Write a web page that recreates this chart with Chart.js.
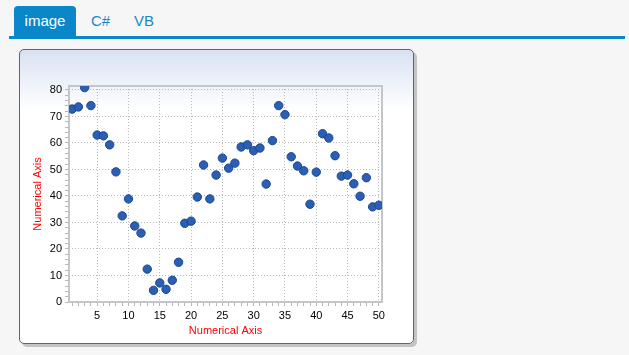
<!DOCTYPE html>
<html>
<head>
<meta charset="utf-8">
<script src="https://cdn.jsdelivr.net/npm/chart.js@4.4.1/dist/chart.umd.min.js"></script>
<style>
  html, body { margin: 0; padding: 0; }
  body { width: 629px; height: 355px; background: #f6f6f6; position: relative; overflow: hidden; font-family: "Liberation Sans", Arial, sans-serif; }
  .tab { position: absolute; top: 6px; height: 30px; line-height: 30px; font-size: 15px; color: #1a88c9; }
  .tab.active { left: 14px; width: 62px; background: #0a87c9; color: #fff; text-align: center; border-radius: 4px 4px 0 0; }
  .bar { position: absolute; left: 9px; top: 36px; width: 616px; height: 3px; background: #0a87c9; }
  .panel { position: absolute; left: 19px; top: 49px; width: 393px; height: 293px; border: 1px solid #60646a; border-radius: 5px;
           background: linear-gradient(to bottom, #d9e1f2 0px, #ffffff 60px, #ffffff 100%); box-shadow: 3px 3px 0 #c4c4c4; }
  .panel canvas { position: absolute; left: 0; top: 0; }
</style>
</head>
<body>
<div class="tab active">image</div>
<div class="tab" style="left:91px;">C#</div>
<div class="tab" style="left:134px;">VB</div>
<div class="bar"></div>
<div class="panel"><canvas id="c" width="393" height="293"></canvas></div>
<script>
const xValues = Array.from({length: 50}, (_, i) => i + 1);
const yValues = [72.8, 73.6, 80.9, 74.1, 63.0, 62.7, 59.3, 49.1, 32.5, 38.9,
                 28.7, 26.0, 12.4, 4.4, 7.2, 4.8, 8.2, 15.0, 29.7, 30.5,
                 39.6, 51.7, 38.9, 47.9, 54.3, 50.5, 52.4, 58.5, 59.3, 57.1,
                 58.1, 44.5, 60.9, 74.1, 70.7, 54.8, 51.3, 49.5, 36.9, 49.0,
                 63.5, 61.9, 55.2, 47.5, 47.9, 44.6, 39.9, 46.9, 35.9, 36.5];
const xTickValues = Array.from({length: 50}, (_, i) => i + 1);
const xTickLabels = [5, 10, 15, 20, 25, 30, 35, 40, 45, 50];
const yTickValues = Array.from({length: 41}, (_, i) => i * 2);
const yTickLabels = [0, 10, 20, 30, 40, 50, 60, 70, 80];
const axisTitle = 'Numerical Axis';

const points = xValues.map((x, i) => ({x: x, y: yValues[i]}));

const areaBorder = {
  id: 'areaBorder',
  beforeDatasetsDraw(chart) {
    const {ctx, chartArea: a} = chart;
    ctx.save();
    ctx.strokeStyle = '#c3c7cc';
    ctx.lineWidth = 2;
    ctx.strokeRect(a.left, a.top, a.right - a.left, a.bottom - a.top);
    ctx.restore();
  }
};

const gridCol = (labels) => (c) => (c.tick && labels.includes(c.tick.value)) ? '#b8b8b8' : 'rgba(0,0,0,0)';

new Chart(document.getElementById('c'), {
  type: 'scatter',
  data: { datasets: [{ data: points, backgroundColor: '#2a5fb4', borderColor: '#1b4690', borderWidth: 1, pointRadius: 4.2, pointHoverRadius: 4.2 }] },
  options: {
    responsive: false, animation: false,
    layout: { padding: { top: 36, right: 31, left: 0, bottom: 0 } },
    plugins: { legend: { display: false }, tooltip: { enabled: false } },
    scales: {
      x: {
        type: 'linear', min: 0.5, max: 50.5,
        afterBuildTicks: (s) => { s.ticks = xTickValues.map(v => ({value: v})); },
        afterFit: (s) => { s.height = 41; },
        grid: { color: gridCol(xTickLabels), tickColor: '#b8b8b8', tickLength: 4, lineWidth: 1 },
        border: { display: false, dash: [1, 2] },
        ticks: { autoSkip: false, maxRotation: 0, padding: 3, color: '#000', font: { family: 'Liberation Sans', size: 11 },
                 callback: (v) => xTickLabels.includes(v) ? String(v) : '' },
        title: { display: true, text: axisTitle, color: '#ff0000', font: { family: 'Liberation Sans', size: 11 }, padding: { top: 0, bottom: 5 } }
      },
      y: {
        type: 'linear', min: 0, max: 81.5,
        afterBuildTicks: (s) => { s.ticks = yTickValues.map(v => ({value: v})); },
        afterFit: (s) => { s.width = 49; },
        grid: { color: gridCol(yTickLabels), tickColor: '#b8b8b8', tickLength: 4, lineWidth: 1 },
        border: { display: false, dash: [1, 2] },
        ticks: { autoSkip: false, padding: 3, color: '#000', font: { family: 'Liberation Sans', size: 11 },
                 callback: (v) => yTickLabels.includes(v) ? String(v) : '' },
        title: { display: true, text: axisTitle, color: '#ff0000', font: { family: 'Liberation Sans', size: 11 }, padding: { top: 11, bottom: 0 } }
      }
    }
  },
  plugins: [areaBorder]
});
</script>
</body>
</html>
